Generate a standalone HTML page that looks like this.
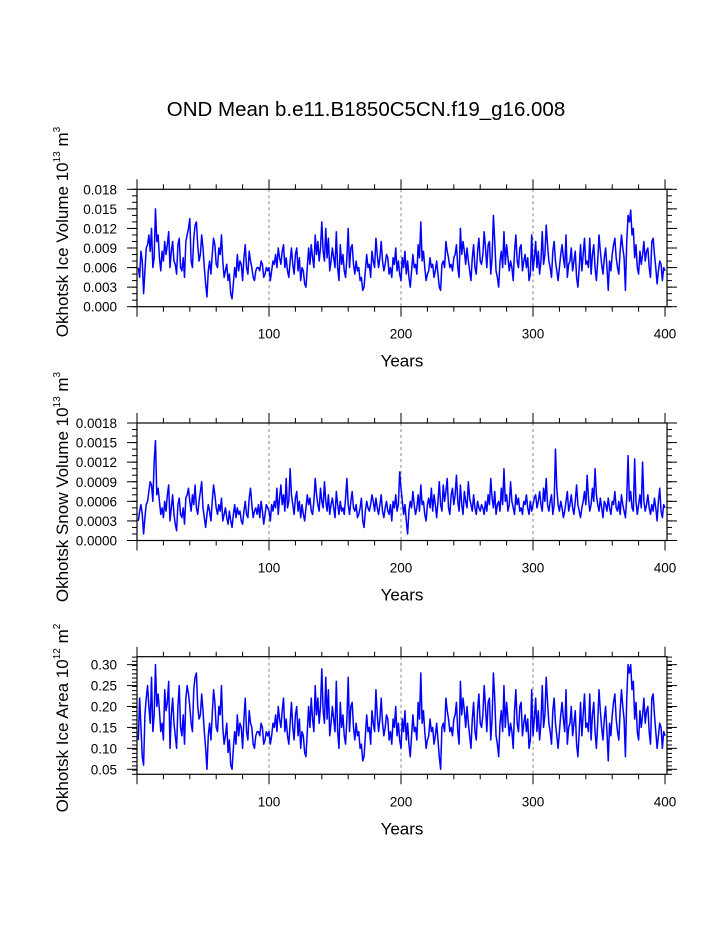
<!DOCTYPE html>
<html><head><meta charset="utf-8"><style>
html,body{margin:0;padding:0;background:#fff;}
svg{display:block;font-family:"Liberation Sans",Arial,sans-serif;}
</style></head><body>
<svg id="chart" width="723" height="935" viewBox="0 0 723 935" xmlns="http://www.w3.org/2000/svg">
<text x="366" y="116" font-size="20.5" text-anchor="middle">OND Mean b.e11.B1850C5CN.f19_g16.008</text>
</svg>
<script>
const years = Array.from({length:400},(_,i)=>i+1);
const iceVolume = [60,45,85,70,20,55,90,95,110,85,120,60,75,150,100,110,75,55,85,70,
100,80,95,115,60,85,100,70,65,50,95,105,60,55,75,45,100,110,120,135,
70,60,105,125,130,95,70,80,110,90,60,35,15,55,70,50,80,105,95,65,
60,90,80,110,70,45,55,65,40,50,20,12,35,60,45,80,55,70,65,40,
75,95,60,50,85,70,60,45,40,55,60,60,55,70,65,45,50,60,55,60,
40,55,70,65,80,60,90,75,65,85,95,60,75,55,45,70,90,65,50,80,
90,55,75,40,60,55,35,30,60,90,65,95,75,60,110,80,100,70,90,130,
85,70,120,75,105,55,70,90,75,60,115,60,40,95,65,80,55,45,75,120,
60,90,95,65,50,70,55,60,40,45,25,30,55,80,60,65,45,85,70,60,
105,80,60,75,100,70,55,65,80,75,50,60,45,75,65,90,55,70,50,40,
75,60,85,50,70,45,30,55,80,60,65,50,95,75,130,70,85,60,40,50,
55,75,60,65,45,55,70,50,30,25,65,70,60,100,85,75,60,65,55,75,
80,95,60,45,120,80,100,85,65,90,70,55,40,75,95,60,50,85,105,70,
65,80,115,90,60,95,100,50,75,140,100,55,45,30,70,85,60,115,65,95,
75,55,70,60,40,85,110,70,60,90,95,55,70,80,60,75,40,50,110,55,
75,100,60,85,50,70,115,65,80,125,95,70,60,45,85,100,70,55,40,60,
80,95,75,60,110,45,65,70,90,55,70,85,45,30,60,95,55,80,105,65,
70,60,105,50,80,95,60,40,70,110,85,65,50,75,90,60,25,70,55,80,
95,105,75,60,50,85,110,90,75,25,100,140,130,148,110,120,75,95,60,50,
85,65,80,100,70,85,90,60,45,100,105,80,60,35,55,70,65,40,60,55].map(v=>v*1e-4);
const snowVolume = [30,45,55,40,10,35,55,60,75,90,85,60,120,153,70,80,60,40,50,35,
60,45,70,85,30,50,70,40,25,15,55,65,40,35,50,25,65,70,80,60,
45,70,55,85,50,40,60,75,90,50,35,20,40,55,45,30,60,85,70,50,
40,55,45,65,30,40,50,35,25,45,30,20,40,55,35,50,40,45,30,25,
45,60,40,35,65,80,55,35,45,50,40,55,35,60,45,25,40,55,50,45,
30,55,45,60,50,80,40,65,85,55,70,45,95,50,60,110,70,55,40,65,
75,45,60,35,55,40,30,50,70,55,65,45,40,60,95,70,55,45,80,60,
50,90,60,45,70,40,55,65,50,35,75,55,40,60,45,50,40,65,95,55,
40,60,75,50,45,55,35,40,50,65,30,20,45,60,50,45,55,70,60,45,
65,50,40,55,70,45,35,50,60,45,40,55,30,60,50,70,45,55,105,80,
60,40,55,30,10,45,60,50,75,55,40,50,70,45,85,55,60,40,30,55,
65,50,80,45,70,55,35,60,90,55,45,85,60,75,95,50,40,70,80,55,
70,100,60,45,85,55,40,75,60,50,90,65,55,45,70,50,40,60,50,45,
55,50,40,60,45,70,55,95,65,50,75,40,55,60,45,80,55,110,60,70,
45,55,90,60,50,40,70,55,65,45,50,40,60,55,70,50,40,60,45,55,
65,70,50,60,75,55,45,80,60,95,55,45,60,70,40,55,140,80,55,45,
60,50,35,45,60,75,45,55,70,50,40,60,85,55,45,35,50,60,75,55,
100,65,45,55,80,60,110,70,55,45,65,50,35,60,55,45,65,50,40,60,
55,75,50,45,60,40,70,55,45,35,65,130,60,75,50,45,125,60,40,55,
70,50,120,60,45,55,70,50,40,55,45,65,50,30,60,80,45,35,55,50].map(v=>v*1e-5);
const iceArea = [12,22,15,8,6,18,22,25,20,16,27,14,18,30,20,23,19,14,16,12,
24,19,21,26,10,18,22,16,13,10,20,25,15,13,18,11,22,25,23,20,
16,14,24,27,28,20,17,18,23,19,14,10,5,13,16,12,18,24,21,15,
14,20,18,25,15,11,13,16,9,12,6,5,10,14,11,18,13,16,15,10,
17,22,14,12,19,16,15,11,10,13,14,14,13,16,15,11,12,14,13,14,
11,13,16,15,18,14,20,17,15,19,22,14,17,13,11,16,21,15,12,18,
20,13,17,10,14,13,9,8,14,20,15,22,17,14,25,18,22,16,20,29,
19,16,27,17,24,13,16,20,17,14,26,14,10,21,15,18,13,11,17,27,
14,20,21,15,12,16,13,14,10,11,7,8,13,18,14,15,11,19,16,14,
24,18,14,17,22,16,13,15,18,17,12,14,11,17,15,20,13,16,12,10,
17,14,19,12,16,11,8,13,18,14,15,12,21,17,28,16,19,14,10,12,
13,17,14,15,11,13,16,12,8,5,15,16,14,22,19,17,14,15,13,17,
18,21,14,11,26,18,22,19,15,20,16,13,10,17,21,14,12,19,23,16,
15,18,25,20,14,21,22,12,17,28,22,13,11,8,16,19,14,25,15,21,
17,13,16,14,10,19,24,16,14,20,21,13,16,18,14,17,10,12,24,13,
17,22,14,19,12,16,25,15,18,27,21,16,14,11,19,22,16,13,10,14,
18,21,17,14,24,11,15,16,20,13,16,19,11,8,14,21,13,18,23,15,
16,14,23,12,18,21,14,10,16,24,19,15,12,17,20,14,7,16,13,18,
21,23,17,14,12,19,24,20,17,8,22,30,28,30,24,26,17,21,14,12,
19,15,18,22,16,19,20,14,11,22,23,18,14,10,13,16,15,10,14,13].map(v=>v*0.01);
const xTicks = [100,200,300,400];
const yTicks1 = ["0.000","0.003","0.006","0.009","0.012","0.015","0.018"];
const yTicks2 = ["0.0000","0.0003","0.0006","0.0009","0.0012","0.0015","0.0018"];
const yTicks3 = ["0.05","0.10","0.15","0.20","0.25","0.30"];

const NS="http://www.w3.org/2000/svg";
const svg=document.getElementById('chart');
function mk(tag,attrs,parent){const e=document.createElementNS(NS,tag);for(const k in attrs)e.setAttribute(k,attrs[k]);(parent||svg).appendChild(e);return e;}

const L=137,R=667;
function panel(cfg){
  const {top,bot,ymin,ymax,data,ticks,minorStep,name,label,sup,unit,usup,labelY}=cfg;
  const g=mk('g',{});
  
  
  const xp=v=>L+(v-0)*(R-L)/401.5;
  const yp=v=>bot-(v-ymin)/(ymax-ymin)*(bot-top);
  for(const t of [100,200,300]){
    const ln=mk('line',{x1:xp(t),x2:xp(t),y1:top,y2:bot,stroke:'#888','stroke-width':1,'stroke-dasharray':'3,3'},g);
    
    
  }
  for(let t=0;t<=400;t+=20){
    const maj=t%100===0, len=maj?10:5;
    mk('line',{x1:xp(t),x2:xp(t),y1:bot,y2:bot+len,stroke:'#000','stroke-width':1},g);
    mk('line',{x1:xp(t),x2:xp(t),y1:top,y2:top-len,stroke:'#000','stroke-width':1},g);
  }
  for(const t of xTicks){
    const tx=mk('text',{x:xp(t),y:bot+32,'font-size':13.5,'text-anchor':'middle'},g);
    tx.textContent=t;
    
    
  }
  const xl=mk('text',{x:402,y:bot+60,'font-size':17,'text-anchor':'middle'},g);
  xl.textContent='Years';
  
  
  const n=Math.round((ymax-ymin)/minorStep);
  for(let i=0;i<=n+1;i++){
    const v=ymin+i*minorStep; if(v>ymax+1e-12)break;
    mk('line',{x1:L,x2:L-5,y1:yp(v),y2:yp(v),stroke:'#000','stroke-width':1},g);
    mk('line',{x1:R,x2:R+5,y1:yp(v),y2:yp(v),stroke:'#000','stroke-width':1},g);
  }
  for(const t of ticks){
    const v=parseFloat(t);
    mk('line',{x1:L,x2:L-10,y1:yp(v),y2:yp(v),stroke:'#000','stroke-width':1},g);
    mk('line',{x1:R,x2:R+10,y1:yp(v),y2:yp(v),stroke:'#000','stroke-width':1},g);
    const tx=mk('text',{x:L-20,y:yp(v)+5,'font-size':13.5,'text-anchor':'end'},g);
    tx.textContent=t;
    
    
  }
  const pts=data.map((v,i)=>xp(years[i]).toFixed(2)+','+yp(v).toFixed(2)).join(' ');
  const pl=mk('polyline',{points:pts,fill:'none',stroke:'#0000ff','stroke-width':1.5,'stroke-linejoin':'round'},g);
  
  
  const fr=mk('rect',{x:L,y:top,width:R-L,height:bot-top,fill:'none',stroke:'#000','stroke-width':1.2},g);
  
  
  const yl=mk('text',{x:0,y:0,'font-size':17,'text-anchor':'middle',transform:`translate(68,${labelY}) rotate(-90)`},g);
  
  
  yl.innerHTML=`${label} 10<tspan dy="-8" font-size="10">${sup}</tspan><tspan dy="8"> ${unit}</tspan><tspan dy="-8" font-size="10">${usup}</tspan>`;
}
panel({top:189.3,bot:306.7,ymin:0,ymax:0.018,data:iceVolume,ticks:yTicks1,minorStep:0.001,name:'ice-volume',label:'Okhotsk Ice Volume',sup:'13',unit:'m',usup:'3',labelY:232});
panel({top:423,bot:540.5,ymin:0,ymax:0.0018,data:snowVolume,ticks:yTicks2,minorStep:0.0001,name:'snow-volume',label:'Okhotsk Snow Volume',sup:'13',unit:'m',usup:'3',labelY:487});
panel({top:656.7,bot:774.3,ymin:0.038,ymax:0.319,data:iceArea,ticks:yTicks3,minorStep:0.01,name:'ice-area',label:'Okhotsk Ice Area',sup:'12',unit:'m',usup:'2',labelY:718});
</script>
</body></html>
